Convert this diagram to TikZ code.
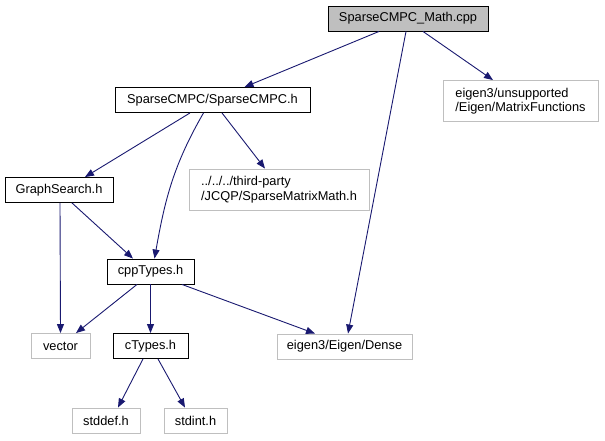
\documentclass[tikz,border=0pt]{standalone}
\usepackage{fontspec}
\setmainfont{Liberation Sans}
\usepackage{xcolor}
\usetikzlibrary{arrows.meta}

\definecolor{edgeblue}{HTML}{191970}
\definecolor{boxgray}{HTML}{BFBFBF}

\begin{document}
\begin{tikzpicture}[
    x=1pt, y=-1pt,
    file/.style={draw, line width=0.9pt, minimum height=25pt, inner xsep=0pt, font=\fontsize{12.8}{14.5}\selectfont},
    ext/.style={file, draw=boxgray, align=left},
    arr/.style={edgeblue, line width=0.9pt, -{Triangle[length=9pt, width=7pt]}}
]
\useasboundingbox (0,0) rectangle (605,440);

\node[file, fill=boxgray, minimum width=160pt] (main) at (408,18.5) {SparseCMPC\_Math.cpp};
\node[file, minimum width=195pt] (sparse) at (212.5,100) {SparseCMPC/SparseCMPC.h};
\node[ext, minimum width=155pt, minimum height=41pt] (unsup) at (520.5,101) {eigen3/unsupported\\/Eigen/MatrixFunctions};
\node[file, minimum width=108pt] (graph) at (59,190) {GraphSearch.h};
\node[ext, minimum width=180pt, minimum height=41pt] (third) at (279,189.5) {../../../third-party\\/JCQP/SparseMatrixMath.h};
\node[file, minimum width=87pt] (cpp) at (150.5,271.5) {cppTypes.h};
\node[ext, minimum width=59pt] (vector) at (60.5,346) {vector};
\node[file, minimum width=75pt] (ctypes) at (150.5,346) {cTypes.h};
\node[ext, minimum width=135pt] (dense) at (344.5,346.5) {eigen3/Eigen/Dense};
\node[ext, minimum width=68pt] (stddef) at (106,420.5) {stddef.h};
\node[ext, minimum width=63pt] (stdint) at (195.5,420.5) {stdint.h};

% includes of the main file
\draw[arr] ([xshift=-29pt]main.south) -- ([xshift=32pt]sparse.north);
\draw[arr] ([xshift=-2pt]main.south) -- ([xshift=3.5pt]dense.north);
\draw[arr] ([xshift=15pt]main.south) -- ([xshift=-27.5pt]unsup.north);

% SparseCMPC.h
\draw[arr] ([xshift=-22.5pt]sparse.south) -- ([xshift=26pt]graph.north);
\draw[arr] ([xshift=-9pt]sparse.south) to[out=-120, in=80] ([xshift=4pt]cpp.north);
\draw[arr] ([xshift=9.5pt]sparse.south) -- ([xshift=-14pt]third.north);

% GraphSearch.h
\draw[arr] ([xshift=1pt]graph.south) -- (vector.north);
\draw[arr] ([xshift=13pt]graph.south) -- ([xshift=-17.5pt]cpp.north);

% cppTypes.h
\draw[arr] ([xshift=-13.5pt]cpp.south) -- ([xshift=15.5pt]vector.north);
\draw[arr] (cpp.south) -- (ctypes.north);
\draw[arr] ([xshift=31.5pt]cpp.south) -- ([xshift=-29.5pt]dense.north);

% cTypes.h
\draw[arr] ([xshift=-7.5pt]ctypes.south) -- ([xshift=12pt]stddef.north);
\draw[arr] ([xshift=7.5pt]ctypes.south) -- ([xshift=-10.5pt]stdint.north);
\end{tikzpicture}
\end{document}
